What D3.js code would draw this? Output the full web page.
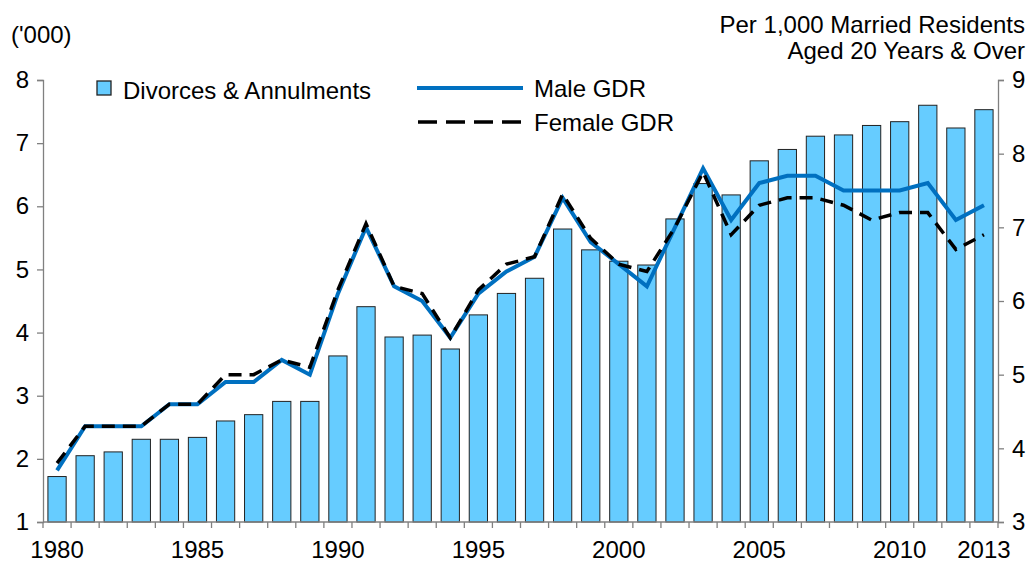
<!DOCTYPE html>
<html>
<head>
<meta charset="utf-8">
<script src="https://cdn.jsdelivr.net/npm/d3@7"></script>
<style>
  body { margin: 0; background: #fff; }
  svg text { font-family: "Liberation Sans", Arial, sans-serif; fill: #000; }
</style>
</head>
<body>
<div id="chart"></div>
<script>
// --- DATA ---
const years = d3.range(1980, 2014);
const divorces = [1.72, 2.05, 2.11, 2.31, 2.31, 2.34, 2.60, 2.70, 2.91, 2.91,
                  3.63, 4.41, 3.93, 3.96, 3.74, 4.28, 4.62, 4.86, 5.64, 5.31,
                  5.13, 5.07, 5.80, 6.36, 6.18, 6.72, 6.90, 7.11, 7.13, 7.28,
                  7.34, 7.60, 7.24, 7.53];
const maleGDR = [3.7, 4.3, 4.3, 4.3, 4.6, 4.6, 4.9, 4.9, 5.2, 5.0,
                 6.1, 7.0, 6.2, 6.0, 5.5, 6.1, 6.4, 6.6, 7.4, 6.8,
                 6.5, 6.2, 7.0, 7.8, 7.1, 7.6, 7.7, 7.7, 7.5, 7.5,
                 7.5, 7.6, 7.1, 7.3];
const femaleGDR = [3.8, 4.3, 4.3, 4.3, 4.6, 4.6, 5.0, 5.0, 5.2, 5.1,
                   6.15, 7.05, 6.2, 6.1, 5.5, 6.15, 6.5, 6.6, 7.45, 6.85,
                   6.5, 6.4, 7.0, 7.75, 6.9, 7.3, 7.4, 7.4, 7.3, 7.1,
                   7.2, 7.2, 6.7, 6.9];
const xLabels = [1980, 1985, 1990, 1995, 2000, 2005, 2010, 2013];
const leftTicks = [1, 2, 3, 4, 5, 6, 7, 8];
const rightTicks = [3, 4, 5, 6, 7, 8, 9];

// --- LAYOUT ---
const width = 1032, height = 562;
const plotLeft = 43, plotRight = 998, plotTop = 80, plotBottom = 522;
const axisColor = "#808080";
const fontSize = "24px";

const svg = d3.select("#chart").append("svg")
    .attr("width", width)
    .attr("height", height);

const x = d3.scaleBand().domain(years).range([plotLeft, plotRight]).paddingInner(0.35).paddingOuter(0.175);
const xEdge = d3.scaleBand().domain(years).range([plotLeft, plotRight]);
const yL = d3.scaleLinear().domain([1, 8]).range([plotBottom, plotTop]);
const yR = d3.scaleLinear().domain([3, 9]).range([plotBottom, plotTop]);

// Bars
svg.selectAll(".bar")
    .data(years)
    .enter().append("rect")
    .attr("class", "bar")
    .attr("x", d => x(d))
    .attr("width", x.bandwidth())
    .attr("y", (d, i) => yL(divorces[i]))
    .attr("height", (d, i) => plotBottom - yL(divorces[i]))
    .attr("fill", "#66CCFF")
    .attr("stroke", "#222")
    .attr("stroke-width", 1);

// Lines
const cx = d => xEdge(d) + xEdge.bandwidth() / 2;
const lineR = d3.line().x((d, i) => cx(years[i])).y(d => yR(d));

svg.append("path")
    .datum(maleGDR)
    .attr("d", lineR)
    .attr("fill", "none")
    .attr("stroke", "#0070C0")
    .attr("stroke-width", 4);

svg.append("path")
    .datum(femaleGDR)
    .attr("d", lineR)
    .attr("fill", "none")
    .attr("stroke", "#000")
    .attr("stroke-width", 3.5)
    .attr("stroke-dasharray", "13,8");

// Left axis
const gL = svg.append("g").attr("transform", `translate(${plotLeft},0)`)
    .call(d3.axisLeft(yL).tickValues(leftTicks).tickSize(6).tickPadding(8).tickFormat(d3.format("d")));
// Right axis
const gR = svg.append("g").attr("transform", `translate(${plotRight},0)`)
    .call(d3.axisRight(yR).tickValues(rightTicks).tickSize(6).tickPadding(8).tickFormat(d3.format("d")));

[gL, gR].forEach(g => {
    g.select(".domain").attr("stroke", axisColor).attr("stroke-width", 1.3);
    g.selectAll(".tick line").attr("stroke", axisColor).attr("stroke-width", 1.3);
    g.selectAll(".tick text").style("font-size", fontSize).attr("fill", "#000");
});

// X axis: baseline plus ticks at band edges
const gX = svg.append("g");
gX.append("line")
    .attr("x1", plotLeft).attr("x2", plotRight)
    .attr("y1", plotBottom).attr("y2", plotBottom)
    .attr("stroke", axisColor).attr("stroke-width", 1.3);
gX.selectAll(".xt")
    .data(years.concat([2014]))
    .enter().append("line")
    .attr("x1", d => d === 2014 ? plotRight : xEdge(d))
    .attr("x2", d => d === 2014 ? plotRight : xEdge(d))
    .attr("y1", plotBottom).attr("y2", plotBottom + 6)
    .attr("stroke", axisColor).attr("stroke-width", 1.3);
gX.selectAll(".xl")
    .data(xLabels)
    .enter().append("text")
    .attr("x", d => cx(d))
    .attr("y", plotBottom + 36)
    .attr("text-anchor", "middle")
    .style("font-size", fontSize)
    .text(d => d);

// Axis titles
svg.append("text").attr("x", 11).attr("y", 43).style("font-size", fontSize).text("('000)");
svg.append("text").attr("x", 1025).attr("y", 33).attr("text-anchor", "end")
    .style("font-size", fontSize).text("Per 1,000 Married Residents");
svg.append("text").attr("x", 1025).attr("y", 59).attr("text-anchor", "end")
    .style("font-size", fontSize).text("Aged 20 Years & Over");

// Legend
const lg = svg.append("g");
lg.append("rect").attr("x", 97).attr("y", 81).attr("width", 14).attr("height", 14)
    .attr("fill", "#66CCFF").attr("stroke", "#222").attr("stroke-width", 1.3);
lg.append("text").attr("x", 123).attr("y", 99).style("font-size", fontSize).text("Divorces & Annulments");
lg.append("line").attr("x1", 417).attr("x2", 523).attr("y1", 88).attr("y2", 88)
    .attr("stroke", "#0070C0").attr("stroke-width", 4);
lg.append("text").attr("x", 534).attr("y", 97).style("font-size", fontSize).text("Male GDR");
lg.append("line").attr("x1", 418).attr("x2", 524).attr("y1", 122).attr("y2", 122)
    .attr("stroke", "#000").attr("stroke-width", 3.5).attr("stroke-dasharray", "19,9");
lg.append("text").attr("x", 534).attr("y", 131).style("font-size", fontSize).text("Female GDR");
</script>
</body>
</html>
